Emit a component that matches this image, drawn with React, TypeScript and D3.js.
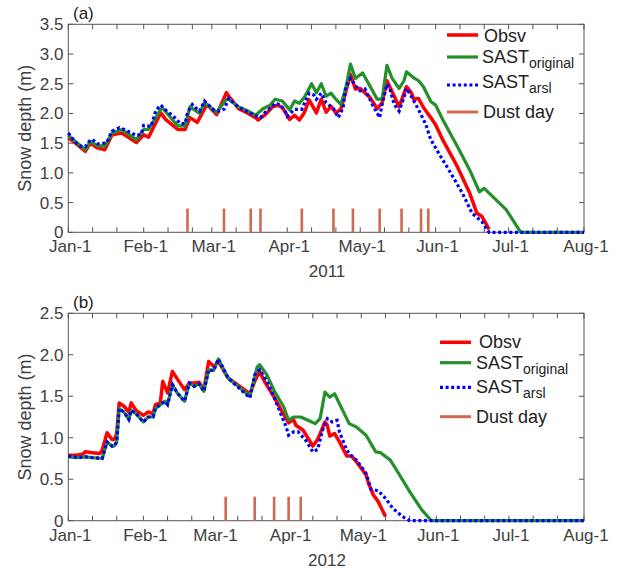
import React from "react";
import * as d3 from "d3";

type Pt = [number, number]; // [day since Jan-1, snow depth m]

// ---- 2011 ----
const obsv2011: Pt[] = [
  [0, 1.59], [3, 1.5], [7, 1.36], [9, 1.5], [12, 1.42], [15, 1.39], [18, 1.64], [22, 1.67],
  [28, 1.51], [31, 1.64], [33, 1.6], [38, 2.01], [40, 1.9], [45, 1.73], [48, 1.73], [50, 1.93],
  [53, 1.85], [57, 2.15], [61, 1.98], [65, 2.35], [66, 2.29], [70, 2.08], [73, 2.02], [77, 1.93],
  [78, 1.89], [81, 1.98], [84, 2.11], [86, 2.14], [88, 2.1], [91, 1.9], [93, 1.97], [95, 1.89],
  [97, 2.01], [99, 2.23], [102, 2.01], [104, 2.24], [106, 2.02], [108, 2.12], [110, 2.01],
  [112, 2.07], [114, 2.35], [116, 2.66], [118, 2.41], [120, 2.42], [124, 2.27], [127, 2.08],
  [129, 2.18], [131, 2.55], [134, 2.29], [136, 2.11], [138, 2.34], [139, 2.45], [141, 2.35],
  [142, 2.24], [144, 2.25], [146, 2.1], [149, 1.93], [151, 1.81], [154, 1.55], [160, 1.1],
  [165, 0.66], [168, 0.32], [170, 0.27], [173, 0.05],
];
const sastOriginal2011: Pt[] = [
  [0, 1.63], [7, 1.39], [9, 1.53], [12, 1.46], [15, 1.45], [18, 1.67], [22, 1.73], [28, 1.56],
  [31, 1.73], [33, 1.73], [38, 2.07], [39, 2.08], [45, 1.79], [48, 1.79], [50, 2.11], [54, 2.0],
  [56, 2.18], [61, 2.02], [65, 2.24], [66, 2.24], [70, 2.11], [73, 2.06], [77, 1.97], [80, 2.08],
  [83, 2.14], [85, 2.24], [88, 2.21], [91, 2.06], [93, 2.21], [95, 2.17], [97, 2.27], [100, 2.5],
  [102, 2.35], [104, 2.5], [106, 2.29], [108, 2.34], [110, 2.24], [112, 2.15], [114, 2.41],
  [116, 2.83], [118, 2.59], [121, 2.68], [124, 2.46], [127, 2.24], [129, 2.24], [131, 2.81],
  [133, 2.6], [136, 2.42], [138, 2.55], [139, 2.7], [142, 2.6], [144, 2.55], [146, 2.45],
  [149, 2.2], [151, 2.14], [154, 1.89], [160, 1.44], [165, 1.05], [169, 0.68], [171, 0.74],
  [173, 0.66], [180, 0.38], [186, 0], [212, 0],
];
const sastArsl2011: Pt[] = [
  [0, 1.67], [3, 1.51], [5, 1.45], [7, 1.44], [9, 1.55], [10, 1.56], [12, 1.49], [14, 1.49],
  [16, 1.52], [17, 1.62], [18, 1.7], [21, 1.76], [23, 1.73], [26, 1.67], [28, 1.63], [30, 1.65],
  [31, 1.8], [34, 1.78], [36, 2.05], [38, 2.14], [40, 2.06], [42, 1.99], [44, 1.92], [46, 1.83],
  [48, 1.83], [49, 2.01], [51, 2.15], [53, 2.07], [54, 2.04], [56, 2.21], [60, 2.05], [62, 2.04],
  [64, 2.07], [66, 2.25], [67, 2.21], [70, 2.11], [73, 2.04], [76, 1.98], [79, 1.93], [81, 2.02],
  [84, 2.12], [85, 2.17], [87, 2.15], [89, 2.05], [90, 1.95], [93, 2.07], [96, 2.07], [99, 2.34],
  [101, 2.31], [102, 2.24], [104, 2.34], [106, 2.18], [109, 2.08], [111, 1.93], [113, 2.1],
  [114, 2.44], [116, 2.59], [118, 2.47], [120, 2.38], [122, 2.41], [125, 2.15], [128, 1.93],
  [129, 2.15], [131, 2.49], [132, 2.44], [134, 2.15], [136, 2.04], [138, 2.27], [139, 2.42],
  [141, 2.29], [143, 2.14], [145, 1.98], [147, 1.81], [149, 1.56], [153, 1.28], [156, 1.08],
  [162, 0.66], [166, 0.32], [170, 0.18], [173, 0], [212, 0],
];
const dust2011 = [49, 64, 75, 79, 96, 109, 117, 128, 137, 145, 148];

// ---- 2012 ----
const obsv2012: Pt[] = [
  [0, 0.79], [3, 0.79], [6, 0.8], [7, 0.83], [10, 0.82], [13, 0.81], [14, 0.85], [16, 1.06],
  [18, 0.98], [19, 0.98], [20, 1.05], [21, 1.42], [23, 1.38], [25, 1.31], [26, 1.42], [28, 1.33],
  [31, 1.27], [33, 1.31], [35, 1.29], [36, 1.4], [38, 1.42], [39, 1.68], [41, 1.54], [43, 1.8],
  [45, 1.71], [48, 1.58], [50, 1.66], [52, 1.66], [54, 1.67], [56, 1.58], [58, 1.92], [60, 1.86],
  [62, 1.92], [66, 1.72], [75, 1.53], [77, 1.68], [79, 1.8], [81, 1.68], [85, 1.49], [88, 1.33],
  [91, 1.18], [93, 1.22], [94, 1.15], [97, 1.09], [101, 0.9], [103, 0.98], [106, 1.19],
  [107, 1.15], [108, 1.02], [110, 1.05], [112, 0.95], [115, 0.78], [117, 0.78], [119, 0.71],
  [123, 0.55], [124, 0.45], [126, 0.31], [128, 0.23], [131, 0.05],
];
const sastOriginal2012: Pt[] = [
  [0, 0.77], [4, 0.76], [7, 0.77], [10, 0.76], [14, 0.75], [16, 0.95], [18, 0.9], [19, 0.9],
  [20, 0.95], [21, 1.35], [23, 1.31], [25, 1.22], [26, 1.33], [28, 1.29], [31, 1.19], [33, 1.25],
  [35, 1.25], [36, 1.35], [38, 1.4], [40, 1.44], [41, 1.4], [43, 1.64], [45, 1.54], [48, 1.44],
  [50, 1.66], [52, 1.62], [54, 1.65], [56, 1.56], [58, 1.82], [60, 1.81], [62, 1.95], [66, 1.72],
  [75, 1.5], [78, 1.85], [79, 1.88], [82, 1.76], [85, 1.57], [89, 1.37], [91, 1.21], [93, 1.25],
  [96, 1.25], [99, 1.21], [102, 1.17], [104, 1.23], [106, 1.55], [108, 1.49], [110, 1.53],
  [113, 1.35], [116, 1.17], [119, 1.13], [123, 1.03], [127, 0.83], [129, 0.82], [133, 0.73],
  [136, 0.59], [141, 0.35], [146, 0.13], [150, 0], [213, 0],
];
const sastArsl2012: Pt[] = [
  [0, 0.78], [4, 0.76], [7, 0.77], [10, 0.76], [14, 0.75], [16, 0.95], [18, 0.9], [19, 0.9],
  [20, 0.95], [21, 1.35], [23, 1.31], [25, 1.22], [26, 1.33], [28, 1.29], [31, 1.19], [33, 1.25],
  [35, 1.25], [36, 1.35], [38, 1.4], [40, 1.44], [41, 1.4], [43, 1.64], [45, 1.54], [48, 1.44],
  [50, 1.66], [52, 1.62], [54, 1.65], [56, 1.56], [58, 1.82], [60, 1.81], [62, 1.95], [66, 1.72],
  [75, 1.48], [77, 1.76], [79, 1.82], [82, 1.68], [85, 1.49], [88, 1.27], [90, 1.13], [91, 1.03],
  [93, 1.07], [95, 1.07], [98, 0.97], [101, 0.83], [103, 0.86], [105, 1.09], [107, 1.23],
  [109, 1.19], [111, 1.21], [112, 1.07], [115, 0.85], [117, 0.78], [119, 0.73], [123, 0.57],
  [125, 0.38], [128, 0.36], [131, 0.27], [134, 0.15], [138, 0.05], [141, 0], [213, 0],
];
const dust2012 = [65, 77, 85, 91, 96];

const tickDays = [1, 11, 21];
const legendNames = ["Obsv", "SAST", "SAST", "Dust day"];
const legendSubs = ["", "original", "arsl", ""];

const RED = "#ff0000";
const GREEN = "#24902a";
const BLUE = "#0000ff";
const DUST = "#cf6a50";
const AXIS = "#555555";
const TXT = "#404040";
const FONT = "'Liberation Sans', Arial, sans-serif";

interface PanelProps {
  year: number;
  letter: string;
  yMax: number;
  y0: number;
  yTop: number;
  obsv: Pt[];
  orig: Pt[];
  arsl: Pt[];
  dust: number[];
  dustH: number;
  legX: number;
  legRows: number[];
  legBase: number[];
  legTextX: number[];
}

const Panel: React.FC<PanelProps> = (p) => {
  const x0 = 68.3;
  const x1 = 584;
  const day = (d: number) => new Date(Date.UTC(p.year, 0, 1 + d));
  const x = d3.scaleUtc().domain([day(0), new Date(Date.UTC(p.year, 7, 1))]).range([x0, x1]);
  const y = d3.scaleLinear().domain([0, p.yMax]).range([p.y0, p.yTop]);
  const line = d3
    .line<Pt>()
    .x((d) => x(day(d[0])))
    .y((d) => y(d[1]));

  const xticks: Date[] = [];
  for (let m = 0; m < 8; m++) {
    tickDays.forEach((dd) => {
      if (m < 7 || dd === 1) xticks.push(new Date(Date.UTC(p.year, m, dd)));
    });
  }
  const fmt = d3.utcFormat("%b-%-d");
  const yticks = d3.range(0, p.yMax + 0.001, 0.5);
  const tl = 5;

  const legStyles = [
    { stroke: RED, w: 3.5, dash: undefined as string | undefined },
    { stroke: GREEN, w: 3.2, dash: undefined },
    { stroke: BLUE, w: 3.2, dash: "3 2.6" },
    { stroke: DUST, w: 3, dash: undefined },
  ];

  return (
    <g fontFamily={FONT}>
      <rect x={x0} y={p.yTop} width={x1 - x0} height={p.y0 - p.yTop} fill="white" stroke={AXIS} strokeWidth={1} />
      {xticks.map((t, i) => (
        <g key={"xt" + i}>
          <line x1={x(t)} x2={x(t)} y1={p.y0} y2={p.y0 - tl} stroke={AXIS} />
          <line x1={x(t)} x2={x(t)} y1={p.yTop} y2={p.yTop + tl} stroke={AXIS} />
          {t.getUTCDate() === 1 && (
            <text x={x(t) + 2} y={p.y0 + 20} textAnchor="middle" fontSize={17} fill={TXT}>
              {fmt(t)}
            </text>
          )}
        </g>
      ))}
      {yticks.map((v, i) => (
        <g key={"yt" + i}>
          <line x1={x0} x2={x0 + tl} y1={y(v)} y2={y(v)} stroke={AXIS} />
          <line x1={x1} x2={x1 - tl} y1={y(v)} y2={y(v)} stroke={AXIS} />
          <text x={63.5} y={y(v) + 6} textAnchor="end" fontSize={17} fill={TXT}>
            {v === 0 ? "0" : v.toFixed(1)}
          </text>
        </g>
      ))}
      {p.dust.map((d, i) => (
        <line key={"du" + i} x1={x(day(d))} x2={x(day(d))} y1={y(0)} y2={y(p.dustH)} stroke={DUST} strokeWidth={2.6} />
      ))}
      <path d={line(p.obsv) || ""} fill="none" stroke={RED} strokeWidth={3.5} strokeLinejoin="round" />
      <path d={line(p.orig) || ""} fill="none" stroke={GREEN} strokeWidth={3.2} strokeLinejoin="round" />
      <path d={line(p.arsl) || ""} fill="none" stroke={BLUE} strokeWidth={3.2} strokeDasharray="3 2.6" />
      <text x={73} y={p.yTop - 5} fontSize={17} fill="#222">{p.letter}</text>
      <text
        transform={`translate(31,${(p.y0 + p.yTop) / 2}) rotate(-90)`}
        textAnchor="middle"
        fontSize={18}
        fill={TXT}
      >
        Snow depth (m)
      </text>
      <text x={327} y={p.y0 + 45} textAnchor="middle" fontSize={17} fill={TXT}>
        {p.year}
      </text>
      {legendNames.map((n, i) => (
        <g key={"lg" + i}>
          <line
            x1={p.legX}
            x2={p.legX + 31}
            y1={p.legRows[i]}
            y2={p.legRows[i]}
            stroke={legStyles[i].stroke}
            strokeWidth={legStyles[i].w}
            strokeDasharray={legStyles[i].dash}
          />
          <text x={p.legTextX[i]} y={p.legBase[i]} fontSize={18} fill="#222">
            {n}
            {legendSubs[i] && (
              <tspan fontSize={14} dy={5}>
                {legendSubs[i]}
              </tspan>
            )}
          </text>
        </g>
      ))}
    </g>
  );
};

export default function App() {
  return (
    <svg width={621} height={570} style={{ position: "absolute", left: 0, top: 0, background: "white" }}>
      <rect width={621} height={570} fill="white" />
      <Panel
        year={2011}
        letter="(a)"
        yMax={3.5}
        y0={232.3}
        yTop={24.3}
        obsv={obsv2011}
        orig={sastOriginal2011}
        arsl={sastArsl2011}
        dust={dust2011}
        dustH={0.4}
        legX={447}
        legRows={[35, 57, 85, 112]}
        legBase={[42, 63, 88, 118]}
        legTextX={[484, 482, 482, 483]}
      />
      <Panel
        year={2012}
        letter="(b)"
        yMax={2.5}
        y0={520.7}
        yTop={313.3}
        obsv={obsv2012}
        orig={sastOriginal2012}
        arsl={sastArsl2012}
        dust={dust2012}
        dustH={0.29}
        legX={440}
        legRows={[342.3, 362.7, 387.3, 416.7]}
        legBase={[348, 369, 393, 423]}
        legTextX={[479, 476, 476, 476]}
      />
    </svg>
  );
}
